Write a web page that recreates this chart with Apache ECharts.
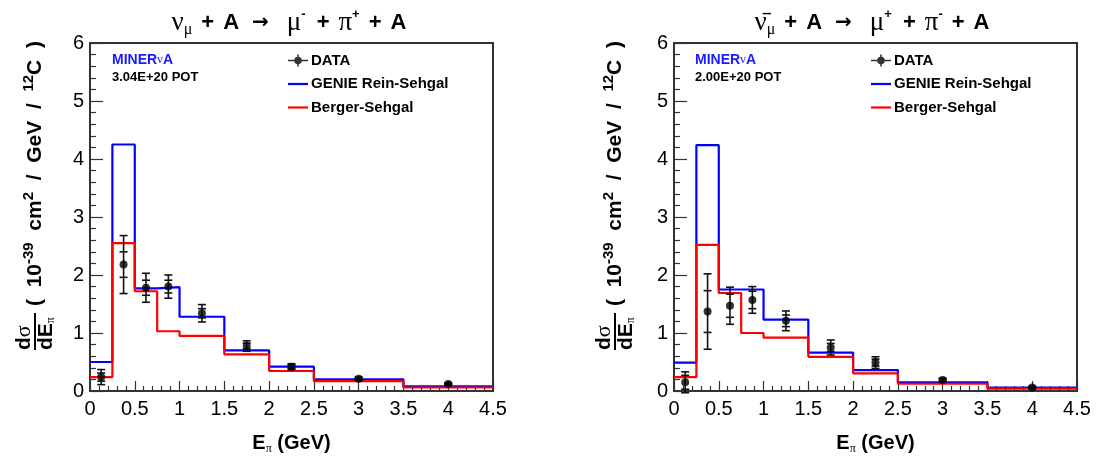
<!DOCTYPE html>
<html><head><meta charset="utf-8">
<script src="https://cdn.jsdelivr.net/npm/echarts@6/dist/echarts.min.js"></script>
<style>html,body{margin:0;padding:0;background:#fff}#c{width:1101px;height:460px}</style>
</head><body><div id="c"></div>
<script>
// ---- data ----
const binEdges = [0, 0.25, 0.5, 0.75, 1, 1.5, 2, 2.5, 3.5, 4.5];
const xTicks = ['0','0.5','1','1.5','2','2.5','3','3.5','4','4.5'];
const dataX = [0.125, 0.375, 0.625, 0.875, 1.25, 1.75, 2.25, 3, 4];
// neutrino panel
const nuGenie  = [0.50, 4.25, 1.77, 1.79, 1.28, 0.70, 0.42, 0.20, 0.08];
const nuBerger = [0.24, 2.55, 1.72, 1.03, 0.95, 0.63, 0.345, 0.17, 0.06];
const nuData   = [0.24, 2.18, 1.78, 1.80, 1.34, 0.775, 0.42, 0.21, 0.12];
const nuStat   = [0.07, 0.22, 0.13, 0.11, 0.08, 0.05, 0.03, 0.02, 0.01];
const nuTot    = [0.13, 0.50, 0.25, 0.20, 0.15, 0.09, 0.05, 0.03, 0.02];
// antineutrino panel
const nbGenie  = [0.49, 4.24, 1.75, 1.75, 1.23, 0.66, 0.36, 0.15, 0.06];
const nbBerger = [0.24, 2.52, 1.69, 1.00, 0.92, 0.59, 0.305, 0.125, 0.04];
const nbData   = [0.15, 1.37, 1.47, 1.57, 1.21, 0.75, 0.49, 0.19, 0.06];
const nbStat   = [0.12, 0.36, 0.20, 0.15, 0.10, 0.07, 0.06, 0.02, 0.01];
const nbTot    = [0.18, 0.65, 0.32, 0.23, 0.17, 0.13, 0.10, 0.03, 0.02];

const FONT = '"Liberation Sans", Arial, Helvetica, sans-serif';
const SERIF = '"Liberation Serif", "DejaVu Serif", serif';

function hist(vals){
  const pts = vals.map((v,i)=>[binEdges[i], v]);
  pts.push([binEdges[binEdges.length-1], vals[vals.length-1]]);
  return pts;
}
function errData(y, s, t){ return dataX.map((x,i)=>[x, y[i], s[i], t[i]]); }

function errRender(params, api){
  const x = api.value(0), y = api.value(1), s = api.value(2), t = api.value(3);
  const hi = api.coord([x, y+t]), lo = api.coord([x, y-t]);
  const sh = api.coord([x, y+s]), sl = api.coord([x, y-s]);
  const w = 4;
  const st = {stroke:'#111', lineWidth:1.6};
  const ln = (x1,y1,x2,y2)=>({type:'line', shape:{x1,y1,x2,y2}, style:st});
  return {type:'group', children:[
    ln(hi[0],hi[1],lo[0],lo[1]),
    ln(hi[0]-w,hi[1],hi[0]+w,hi[1]),
    ln(lo[0]-w,lo[1],lo[0]+w,lo[1]),
    ln(sh[0]-w,sh[1],sh[0]+w,sh[1]),
    ln(sl[0]-w,sl[1],sl[0]+w,sl[1])
  ]};
}

const grids = [
  {left:90, top:43, width:403, height:353, show:true, borderColor:'#333', borderWidth:2, backgroundColor:'transparent'},
  {left:674, top:43, width:403, height:353, show:true, borderColor:'#333', borderWidth:2, backgroundColor:'transparent'}
];
function xAx(i){
  return {type:'value', gridIndex:i, min:0, max:4.5, interval:0.5,
    axisLine:{show:true, onZero:false, lineStyle:{color:'#333', width:2}},
    axisTick:{inside:true, length:10, lineStyle:{color:'#333', width:1.2}},
    minorTick:{show:true, splitNumber:5, length:5, lineStyle:{color:'#333', width:1.2}},
    splitLine:{show:false},
    axisLabel:{color:'#000', fontFamily:FONT, fontSize:20, margin:8,
      formatter:(v)=>xTicks[Math.round(v/0.5)]},
    name:'{b|E}{s|π}{b| (GeV)}', nameLocation:'middle', nameGap:40,
    nameTextStyle:{rich:{
      b:{fontFamily:FONT, fontWeight:'bold', fontSize:20, color:'#000', lineHeight:24},
      s:{fontFamily:SERIF, fontSize:12, color:'#000', verticalAlign:'bottom', lineHeight:12}
    }}
  };
}
function yAx(i){
  return {type:'value', gridIndex:i, min:0, max:6, interval:1,
    axisLine:{show:true, onZero:false, lineStyle:{color:'#333', width:2}},
    axisTick:{inside:true, length:13, lineStyle:{color:'#333', width:1.2}},
    minorTick:{show:true, splitNumber:5, length:6, lineStyle:{color:'#333', width:1.2}},
    splitLine:{show:false},
    axisLabel:{color:'#000', fontFamily:FONT, fontSize:20, margin:6}
  };
}

function panelSeries(i, genie, berger, data, stat, tot){
  return [
    {name:'GENIE Rein-Sehgal', type:'line', xAxisIndex:i, yAxisIndex:i, step:'end', data:hist(genie),
      showSymbol:false, lineStyle:{color:'#0000ff', width:2.2}, itemStyle:{color:'#0000ff'}, z:2, silent:true},
    {name:'Berger-Sehgal', type:'line', xAxisIndex:i, yAxisIndex:i, step:'end', data:hist(berger),
      showSymbol:false, lineStyle:{color:'#ff0000', width:2.2}, itemStyle:{color:'#ff0000'}, z:3, silent:true},
    {type:'custom', xAxisIndex:i, yAxisIndex:i, renderItem:errRender, data:errData(data, stat, tot), z:4, silent:true},
    {name:'DATA', type:'scatter', xAxisIndex:i, yAxisIndex:i, data:dataX.map((x,k)=>[x, data[k]]),
      symbol:'circle', symbolSize:8, itemStyle:{color:'#000'}, z:5, silent:true}
  ];
}

const dataIcon = 'path://M0,5.2h6.5v1.6h-6.5z M13.5,5.2h6.5v1.6h-6.5z M9.2,0h1.6v2.5h-1.6z M9.2,9.5h1.6v2.5h-1.6z M6.2,6a3.8,3.8 0 1,1 7.6,0a3.8,3.8 0 1,1 -7.6,0z';
const lineIcon = 'path://M0,0h20v2.2h-20z';
function legend(left){
  return {left:left, top:53, padding:0, orient:'vertical', itemWidth:20, itemHeight:12, itemGap:8.5,
    selectedMode:false,
    textStyle:{fontFamily:FONT, fontWeight:'bold', fontSize:15, color:'#000', padding:[0,0,0,-2]},
    data:[
      {name:'DATA', icon:dataIcon, itemStyle:{color:'#000'}},
      {name:'GENIE Rein-Sehgal', icon:lineIcon},
      {name:'Berger-Sehgal', icon:lineIcon}
    ]};
}

const titleRich = {
  g:{fontFamily:SERIF, fontWeight:'normal', fontSize:27, color:'#000', lineHeight:30},
  b:{fontFamily:FONT, fontWeight:'bold', fontSize:22, color:'#000', lineHeight:30},
  ar:{fontFamily:'"DejaVu Sans", sans-serif', fontWeight:'bold', fontSize:20, color:'#000', lineHeight:30},
  sub:{fontFamily:SERIF, fontWeight:'normal', fontSize:16, color:'#000', verticalAlign:'bottom', lineHeight:14},
  sup:{fontFamily:FONT, fontWeight:'bold', fontSize:13, color:'#000', verticalAlign:'top', lineHeight:20},
  s9:{fontSize:22, width:9, lineHeight:30}, s11:{fontSize:22, width:11, lineHeight:30},
  s13:{fontSize:22, width:13, lineHeight:30}, s18:{fontSize:22, width:18, lineHeight:30},
  s7:{fontSize:22, width:7, lineHeight:30}
};
function title(nu, l1, l2){
  return '{g|'+nu+'}{sub|μ}{s9| }{b|+}{s9| }{b|A}{s13| }{ar|→}{s18| }{g|μ}{sup|'+l1+'}{s11| }{b|+}{s9| }{g|π}{sup|'+l2+'}{s9| }{b|+}{s9| }{b|A}';
}

function yLabel(x){
  const txt = {fontFamily:FONT, fontWeight:'bold', fontSize:21, fill:'#000'};
  return {type:'group', x:x, y:350, rotation:Math.PI/2, children:[
    {type:'text', x:0, y:-10, style:{text:'{a|d}{g|σ}', rich:{a:txt, g:{fontFamily:SERIF, fontSize:22, fill:'#000'}},
      align:'left', verticalAlign:'middle'}},
    {type:'line', shape:{x1:0, y1:1, x2:37, y2:1}, style:{stroke:'#000', lineWidth:2}},
    {type:'text', x:0, y:12, style:{text:'{a|dE}{s|π}', rich:{a:txt, s:{fontFamily:SERIF, fontSize:12, fill:'#000', verticalAlign:'bottom', lineHeight:10}},
      align:'left', verticalAlign:'middle'}},
    {type:'text', x:44, y:1, style:{
      text:'{a|(  10}{p|-39}{a|  cm}{p|2}{a|  /  GeV  /  }{p|12}{a|C  )}',
      rich:{a:Object.assign({lineHeight:28}, txt), p:{fontFamily:FONT, fontWeight:'bold', fontSize:15, fill:'#000', verticalAlign:'top', lineHeight:14}},
      align:'left', verticalAlign:'middle'}}
  ]};
}

function minerva(x, pot){
  return [
    {type:'text', left:x, top:53, style:{text:'{m|MINER}{n|ν}{m|A}', rich:{
      m:{fontFamily:FONT, fontWeight:'bold', fontSize:14, fill:'#1a1aff'},
      n:{fontFamily:SERIF, fontSize:13, fill:'#1a1aff'}}}},
    {type:'text', left:x, top:71, style:{text:pot, fontFamily:FONT, fontWeight:'bold', fontSize:13, fill:'#000'}}
  ];
}

const option = {
  animation:false,
  backgroundColor:'#fff',
  title:[
    {text:title('ν','-','+'), left:284, top:3, textAlign:'center', textStyle:{rich:titleRich}},
    {text:title('ν̄','+','-'), left:867, top:3, textAlign:'center', textStyle:{rich:titleRich}}
  ],
  grid:grids,
  xAxis:[xAx(0), xAx(1)],
  yAxis:[yAx(0), yAx(1)],
  legend:[legend(288), legend(871)],
  graphic:[yLabel(34), yLabel(614)].concat(minerva(112,'3.04E+20 POT'), minerva(695,'2.00E+20 POT')),
  series:[].concat(
    panelSeries(0, nuGenie, nuBerger, nuData, nuStat, nuTot),
    panelSeries(1, nbGenie, nbBerger, nbData, nbStat, nbTot)
  )
};
echarts.init(document.getElementById('c'), null, {renderer:'canvas'}).setOption(option);
</script></body></html>
